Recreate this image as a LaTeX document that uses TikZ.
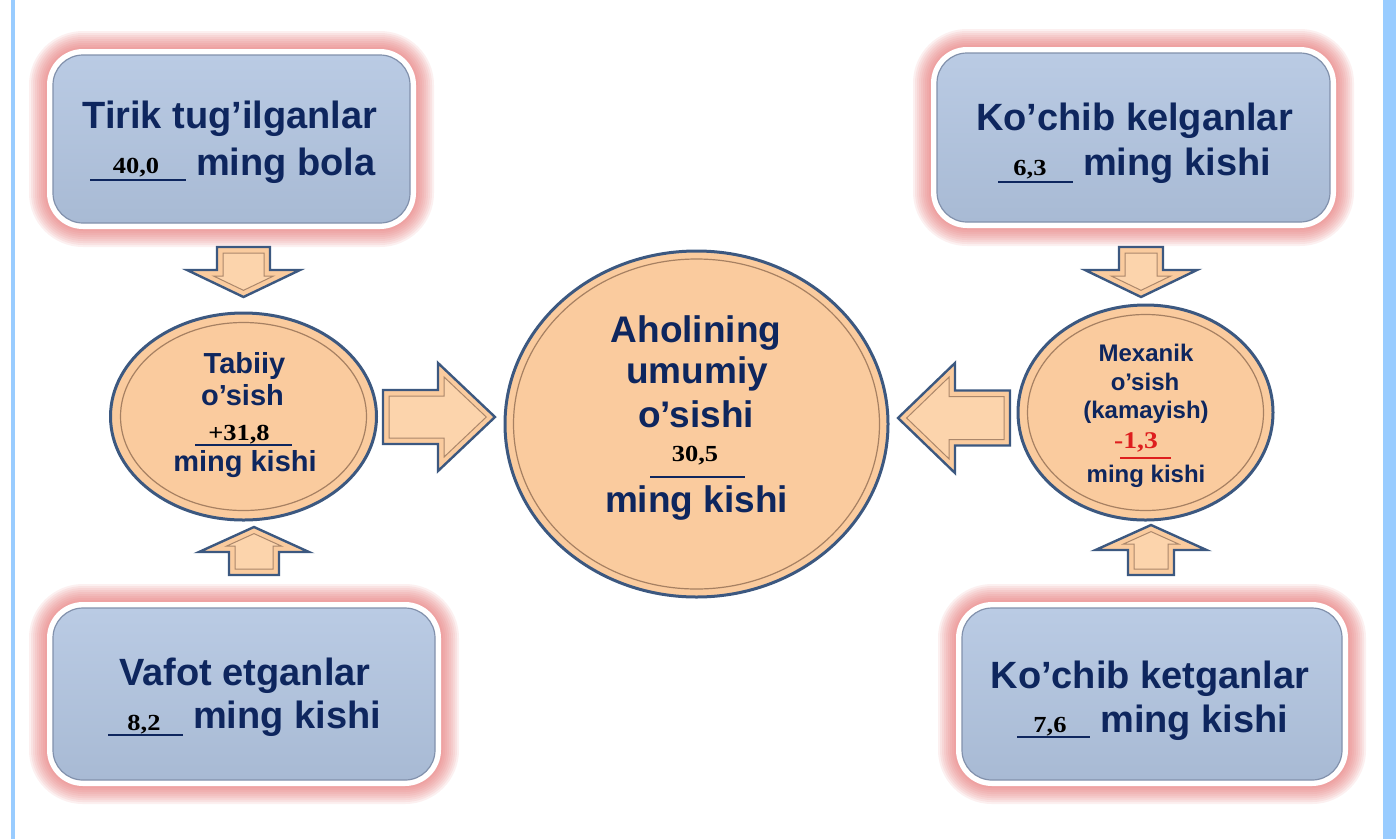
\documentclass[tikz,border=0pt]{standalone}
\usepackage{fontspec}
\setmainfont{Liberation Sans}
\newfontfamily\numfont[FakeStretch=1.15]{Liberation Serif}
\usetikzlibrary{shapes.geometric}
\definecolor{navy}{RGB}{14,38,94}
\definecolor{boxtop}{RGB}{186,203,228}
\definecolor{boxbot}{RGB}{168,186,212}
\definecolor{boxedge}{RGB}{130,145,172}
\definecolor{glow}{RGB}{232,110,110}
\definecolor{peach}{RGB}{250,203,158}
\definecolor{peachlight}{RGB}{252,212,172}
\definecolor{slate}{RGB}{60,88,128}
\definecolor{bevel}{RGB}{150,105,70}
\definecolor{barblue}{RGB}{153,204,255}
\definecolor{numred}{RGB}{222,30,30}
\tikzset{
  bluebox/.style={rectangle, rounded corners=30pt, top color=boxtop, bottom color=boxbot, draw=boxedge, line width=1.2pt, inner sep=0pt},
  oval/.style={ellipse, fill=peach, draw=slate, line width=3pt, inner sep=0pt},
  ring/.style={draw=bevel!85, line width=1.2pt},
  boxtxt/.style={font=\bfseries\fontsize{38}{40}\selectfont, text=navy, anchor=base, inner sep=0pt},
  leftxt/.style={font=\bfseries\fontsize{29}{31}\selectfont, text=navy, anchor=base, inner sep=0pt},
  cenxt/.style={font=\bfseries\fontsize{37}{39}\selectfont, text=navy, anchor=base, inner sep=0pt},
  rigxt/.style={font=\bfseries\fontsize{24}{26}\selectfont, text=navy, anchor=base, inner sep=0pt},
  numtxt/.style={font=\numfont\bfseries\fontsize{23}{25}\selectfont, text=black, anchor=base, inner sep=0pt},
  uline/.style={draw=navy, line width=2.5pt},
  arrowbody/.style={fill=peach, draw=slate, line width=2.4pt, line join=miter},
  arrowbevel/.style={draw=bevel!80, line width=1pt, fill=peachlight}
}
\newcommand\glowrect[4]{%
  \foreach \g in {9,8,...,1}{%
    \pgfmathsetmacro\rr{36+2*\g}%
    \fill[glow, opacity=0.1, rounded corners=\rr pt] ({#1-6-2*\g},{#2-6-2*\g}) rectangle ({#3+6+2*\g},{#4+6+2*\g});}
  \fill[white, rounded corners=36pt] ({#1-6},{#2-6}) rectangle ({#3+6},{#4+6});
}
\newcommand\blockarrow[7]{% x y rot L T s h
  \begin{scope}[shift={(#1,#2)}, rotate=#3]
    \path[arrowbody] (0,-#6) -- (#4,-#6) -- (#4,-#7) -- (#5,0) -- (#4,#7) -- (#4,#6) -- (0,#6) -- cycle;
    \pgfmathsetmacro\aa{#5-#4}%
    \pgfmathsetmacro\nn{sqrt(\aa*\aa+#7*#7)}%
    \pgfmathsetmacro\yb{-#7+6*#7/\aa+6*\nn/\aa}%
    \pgfmathsetmacro\xt{#5-6*\nn/#7}%
    \path[arrowbevel] (6,{-#6+6}) -- ({#4+6},{-#6+6}) -- ({#4+6},\yb) -- (\xt,0) -- ({#4+6},{-\yb}) -- ({#4+6},{#6-6}) -- (6,{#6-6}) -- cycle;
  \end{scope}}
\begin{document}
\begin{tikzpicture}[x=1pt,y=-1pt]
\useasboundingbox (0,0) rectangle (1396,839);
\fill[white] (0,0) rectangle (1396,839);
\fill[barblue] (10.5,0) rectangle (14.5,839);
\fill[barblue] (1383,0) rectangle (1396,839);

% boxes
\glowrect{53}{55}{410}{223}
\node[bluebox, minimum width=357pt, minimum height=168pt] (tl) at (231.5,139) {};
\glowrect{937}{53}{1330}{222}
\node[bluebox, minimum width=393pt, minimum height=169pt] (tr) at (1133.5,137.5) {};
\glowrect{53}{608}{435}{780}
\node[bluebox, minimum width=382pt, minimum height=172pt] (bl) at (244,694) {};
\glowrect{962}{608}{1342}{780}
\node[bluebox, minimum width=380pt, minimum height=172pt] (br) at (1152,694) {};

% box texts
\node[boxtxt] (tla) at (230,128) {Tirik tug’ilganlar};
\node[numtxt] (tlnum) at (136,173) {40,0};
\draw[uline] (90,180) -- (186,180);
\node[boxtxt, anchor=base west] (tlb) at (196,175) {ming bola};

\node[boxtxt] (tra) at (1134.5,130) {Ko’chib kelganlar};
\node[numtxt] (trnum) at (1030,175) {6,3};
\draw[uline] (998,182) -- (1073,182);
\node[boxtxt, anchor=base west] (trb) at (1083,175) {ming kishi};

\node[boxtxt] (bla) at (245,685) {Vafot etganlar};
\node[numtxt] (blnum) at (144,730) {8,2};
\draw[uline] (108,735) -- (183,735);
\node[boxtxt, anchor=base west] (blb) at (193,728) {ming kishi};

\node[boxtxt] (bra) at (1150,688) {Ko’chib ketganlar};
\node[numtxt] (brnum) at (1050,732) {7,6};
\draw[uline] (1017,737) -- (1090,737);
\node[boxtxt, anchor=base west] (brb) at (1100,732) {ming kishi};

% ovals
\node[oval, minimum width=266pt, minimum height=207pt] (nat) at (243.5,416.5) {};
\draw[ring] (nat.center) ellipse [x radius=123, y radius=94];
\node[oval, minimum width=383pt, minimum height=346pt] (tot) at (696.5,424) {};
\draw[ring] (tot.center) ellipse [x radius=183, y radius=165];
\node[oval, minimum width=255pt, minimum height=215pt] (mech) at (1145.5,412.5) {};
\draw[ring] (mech.center) ellipse [x radius=118, y radius=98];

% oval texts
\node[leftxt] (na) at (244.5,373) {Tabiiy};
\node[leftxt] (nb) at (242.5,405) {o’sish};
\node[numtxt] (nnum) at (239,440) {+31,8};
\draw[uline] (195,445) -- (292,445);
\node[leftxt] (nc) at (245,471) {ming kishi};

\node[cenxt] (ca) at (696,342) {Aholining};
\node[cenxt] (cb) at (697,383) {umumiy};
\node[cenxt] (cc) at (696,427) {o’sishi};
\node[numtxt] (cnum) at (695,461) {30,5};
\draw[uline] (650,477) -- (745,477);
\node[cenxt] (cd) at (696.5,512) {ming kishi};

\node[rigxt] (ma) at (1146,361) {Mexanik};
\node[rigxt] (mb) at (1145,390) {o’sish};
\node[rigxt] (mc) at (1146,418) {(kamayish)};
\node[numtxt, text=numred, font=\numfont\bfseries\fontsize{24}{26}\selectfont] (mnum) at (1136,448) {-1,3};
\draw[numred, line width=2.5pt] (1120,458) -- (1171,458);
\node[rigxt] (md) at (1146,482) {ming kishi};

% block arrows
\blockarrow{383}{417}{0}{55}{112}{27}{54}
\blockarrow{1010}{418}{180}{55}{112}{27.5}{55}
\blockarrow{243.5}{247}{-90}{23}{50}{26.5}{56.5}
\blockarrow{254}{575}{90}{23}{48}{25}{55}
\blockarrow{1141}{247}{-90}{23}{50}{22}{56}
\blockarrow{1151}{575}{90}{25}{50}{23}{55.5}
\end{tikzpicture}
\end{document}
